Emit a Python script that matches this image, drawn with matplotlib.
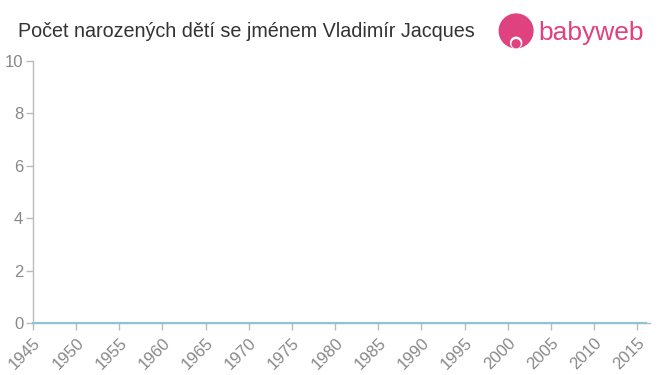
import matplotlib.pyplot as plt
from matplotlib.patches import Circle

# data: no births recorded in any year
years = list(range(1945, 2017))
counts = [0] * len(years)
xticks = list(range(1945, 2016, 5))
yticks = [0, 2, 4, 6, 8, 10]

plt.rcParams['font.family'] = ['Liberation Sans', 'DejaVu Sans']

fig = plt.figure(figsize=(6.6, 3.75), dpi=100)
ax = fig.add_axes([0.05, 0.1387, 0.935, 0.6986])

ax.plot(years, counts, color='#8fc3d4', linewidth=1.5, clip_on=False, zorder=3)

ax.set_xlim(1945, 2016.5)
ax.set_ylim(0, 10)
ax.set_xticks(xticks)
ax.set_xticklabels([str(x) for x in xticks], rotation=45, ha='right',
                   rotation_mode='anchor')
ax.set_yticks(yticks)

for s in ['top', 'right']:
    ax.spines[s].set_visible(False)
for s in ['left', 'bottom']:
    ax.spines[s].set_color('#bbbbbb')
    ax.spines[s].set_linewidth(1)
ax.tick_params(axis='both', colors='#bbbbbb', labelcolor='#888888',
               labelsize=12, length=5, width=1)
ax.tick_params(axis='y', pad=2)

fig.text(0.027, 0.915, 'Počet narozených dětí se jménem Vladimír Jacques',
         fontsize=14.2, color='#333333', va='center', ha='left')

# babyweb logo
logo = fig.add_axes([0.752, 0.83, 0.06, 0.17])
logo.set_xlim(-1, 1)
logo.set_ylim(-1, 1)
logo.set_aspect('equal')
logo.axis('off')
logo.add_patch(Circle((0, 0.05), 0.85, color='#e0417f'))
logo.add_patch(Circle((0, -0.55), 0.28, color='white'))
logo.add_patch(Circle((0, -0.6), 0.2, color='#e0417f'))
fig.text(0.816, 0.913, 'babyweb', fontsize=19, color='#e0417f',
         va='center', ha='left')

fig.savefig('out.png', dpi=100)
